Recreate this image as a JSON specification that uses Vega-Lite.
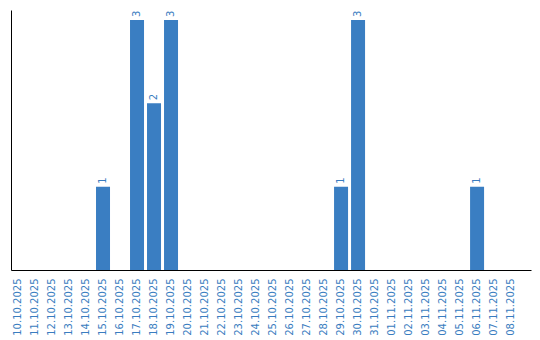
{
  "$schema": "https://vega.github.io/schema/vega-lite/v6.json",
  "autosize": {"type": "none"},
  "padding": {"left": 11, "top": 10, "right": 9, "bottom": 70},
  "width": 520,
  "height": 260,
  "background": "white",
  "config": {"view": {"stroke": null}, "font": "DejaVu Sans"},
  "data": {"values": [
    {"date": "10.10.2025", "count": 0},
    {"date": "11.10.2025", "count": 0},
    {"date": "12.10.2025", "count": 0},
    {"date": "13.10.2025", "count": 0},
    {"date": "14.10.2025", "count": 0},
    {"date": "15.10.2025", "count": 1},
    {"date": "16.10.2025", "count": 0},
    {"date": "17.10.2025", "count": 3},
    {"date": "18.10.2025", "count": 2},
    {"date": "19.10.2025", "count": 3},
    {"date": "20.10.2025", "count": 0},
    {"date": "21.10.2025", "count": 0},
    {"date": "22.10.2025", "count": 0},
    {"date": "23.10.2025", "count": 0},
    {"date": "24.10.2025", "count": 0},
    {"date": "25.10.2025", "count": 0},
    {"date": "26.10.2025", "count": 0},
    {"date": "27.10.2025", "count": 0},
    {"date": "28.10.2025", "count": 0},
    {"date": "29.10.2025", "count": 1},
    {"date": "30.10.2025", "count": 3},
    {"date": "31.10.2025", "count": 0},
    {"date": "01.11.2025", "count": 0},
    {"date": "02.11.2025", "count": 0},
    {"date": "03.11.2025", "count": 0},
    {"date": "04.11.2025", "count": 0},
    {"date": "05.11.2025", "count": 0},
    {"date": "06.11.2025", "count": 1},
    {"date": "07.11.2025", "count": 0},
    {"date": "08.11.2025", "count": 0}
  ]},
  "encoding": {
    "x": {
      "field": "date", "type": "nominal", "sort": null,
      "scale": {"paddingInner": 0.1765, "paddingOuter": 0.38, "align": 0},
      "axis": {
        "title": null, "labelAngle": -90, "labelAlign": "right", "labelBaseline": "middle",
        "labelColor": "#3a7dc0", "labelFontSize": 10, "labelFont": "DejaVu Sans",
        "ticks": false, "labelPadding": 8, "domainColor": "#000000", "domainWidth": 1,
        "grid": false, "labelOverlap": false
      }
    },
    "y": {
      "field": "count", "type": "quantitative",
      "scale": {"domain": [0, 3.12], "nice": false},
      "axis": {"title": null, "labels": false, "ticks": false, "grid": false, "domainColor": "#000000", "domainWidth": 1}
    }
  },
  "layer": [
    {"mark": {"type": "bar", "color": "#3a7ec2"}},
    {
      "transform": [{"filter": "datum.count > 0"}],
      "mark": {"type": "text", "angle": -90, "align": "left", "baseline": "middle", "dx": 3, "fontSize": 10, "font": "DejaVu Sans", "color": "#3a7dc0"},
      "encoding": {"text": {"field": "count", "type": "quantitative"}}
    }
  ]
}
